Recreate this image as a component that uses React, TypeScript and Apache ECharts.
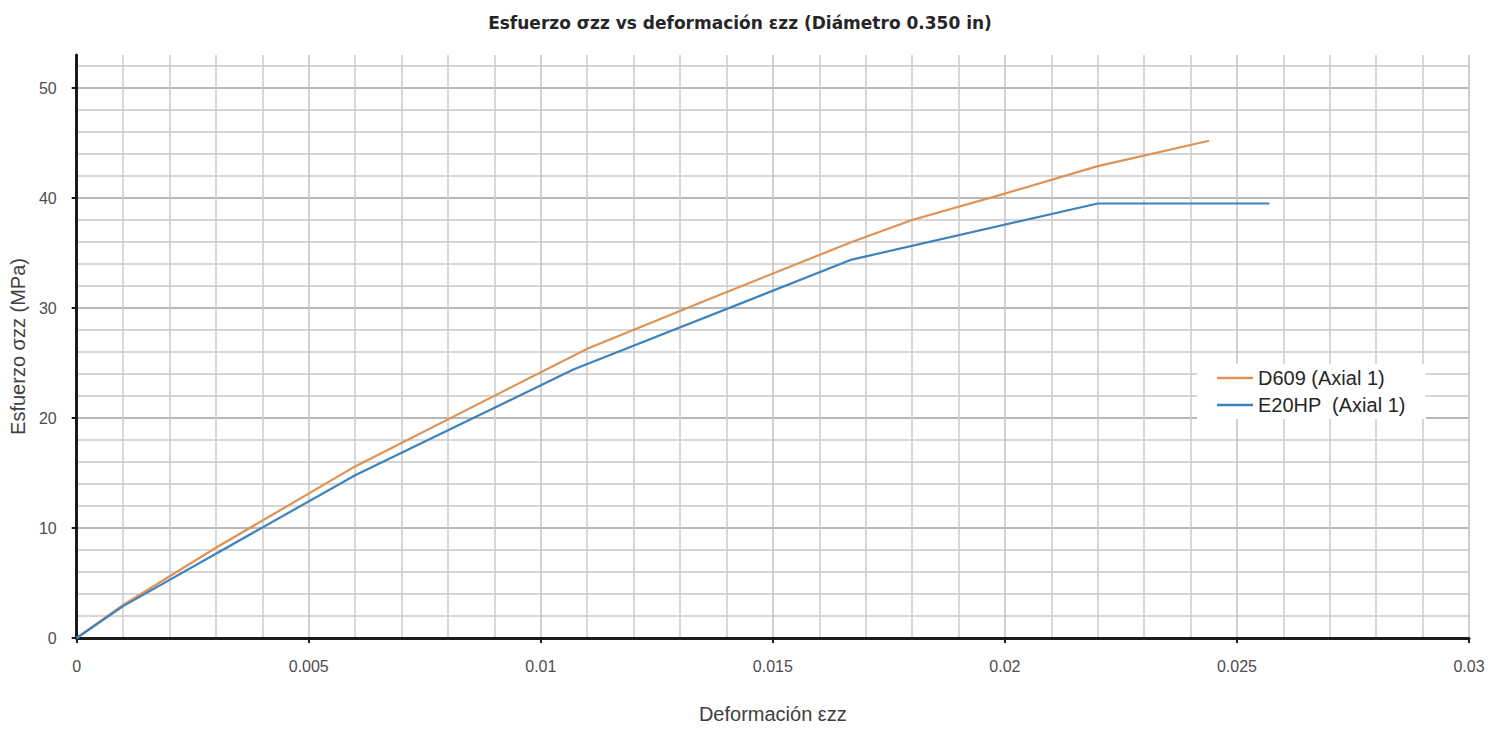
import React, { useEffect, useRef } from "react";
import * as echarts from "echarts";

const seriesNames = ["D609 (Axial 1)", "E20HP  (Axial 1)"];
const d609Strain = [0, 0.001, 0.003, 0.006, 0.011, 0.0135, 0.0167, 0.018, 0.02, 0.022, 0.0244];
const d609Stress = [0, 3.0, 8.2, 15.6, 26.3, 30.6, 36.0, 38.0, 40.4, 42.9, 45.2];
const e20Strain = [0, 0.001, 0.006, 0.0107, 0.0167, 0.022, 0.0257];
const e20Stress = [0, 2.9, 14.8, 24.4, 34.4, 39.5, 39.5];
const xTickLabels = [0, 0.005, 0.01, 0.015, 0.02, 0.025, 0.03];
const yTickLabels = [0, 10, 20, 30, 40, 50];

const FONT = "'Liberation Sans', Arial, sans-serif";
const orange = "#df9254";
const blue = "#3d83bd";

export default function App() {
  const ref = useRef<HTMLDivElement>(null);
  useEffect(() => {
    if (!ref.current) return;
    const chart = echarts.init(ref.current, null, { renderer: "svg" });
    const pairs = (xs: number[], ys: number[]) => xs.map((x, i) => [x, ys[i]]);
    chart.setOption({
      animation: false,
      backgroundColor: "#ffffff",
      textStyle: { fontFamily: FONT },
      title: {
        text: "Esfuerzo σzz vs deformación εzz (Diámetro 0.350 in)",
        left: 735,
        top: 9,
        textAlign: "center",
        textStyle: { fontFamily: "'DejaVu Sans', sans-serif", fontSize: 17, fontWeight: "bold", color: "#262626" },
      },
      legend: {
        orient: "vertical",
        left: 1197,
        top: 364,
        padding: [4, 20, 4, 20],
        backgroundColor: "#ffffff",
        icon: "rect",
        itemWidth: 36,
        itemHeight: 2.5,
        itemGap: 7,
        textStyle: { fontFamily: FONT, fontSize: 20, color: "#262626" },
        data: seriesNames,
      },
      grid: { left: 72, right: 36, top: 55, bottom: 85, containLabel: false },
      xAxis: {
        type: "value",
        min: 0,
        max: 0.03,
        interval: 0.005,
        name: "Deformación εzz",
        nameLocation: "middle",
        nameGap: 66,
        nameTextStyle: { fontFamily: FONT, fontSize: 20, color: "#404040" },
        axisLine: { show: true, onZero: false, lineStyle: { color: "#1a1a1a", width: 3 } },
        axisTick: { show: true, length: 5, customValues: xTickLabels, lineStyle: { color: "#1a1a1a", width: 2 } },
        axisLabel: {
          customValues: xTickLabels,
          margin: 20,
          fontFamily: FONT,
          fontSize: 16,
          color: "#4d4d4d",
          formatter: (v: number) => String(+v.toFixed(3)),
        },
        splitLine: { show: true, lineStyle: { color: "#c2c2c2", width: 1.5 } },
        minorTick: { show: false, splitNumber: 5 },
        minorSplitLine: { show: true, lineStyle: { color: "#cbcbcb", width: 1.5 } },
      },
      yAxis: {
        type: "value",
        min: 0,
        max: 53,
        interval: 10,
        name: "Esfuerzo σzz (MPa)",
        nameLocation: "middle",
        nameGap: 42,
        nameTextStyle: { fontFamily: FONT, fontSize: 20, color: "#404040" },
        axisLine: { show: true, lineStyle: { color: "#1a1a1a", width: 3 } },
        axisTick: { show: true, length: 5, customValues: yTickLabels, lineStyle: { color: "#1a1a1a", width: 2 } },
        axisLabel: {
          customValues: yTickLabels,
          margin: 20,
          fontFamily: FONT,
          fontSize: 16,
          color: "#4d4d4d",
        },
        splitLine: { show: true, lineStyle: { color: "#a0a0a0", width: 1.5 } },
        minorTick: { show: false, splitNumber: 5 },
        minorSplitLine: { show: true, lineStyle: { color: "#c8c8c8", width: 1.5 } },
      },
      series: [
        {
          name: seriesNames[0],
          type: "line",
          data: pairs(d609Strain, d609Stress),
          symbol: "none",
          smooth: false,
          lineStyle: { color: orange, width: 2.2 },
          itemStyle: { color: orange },
          z: 3,
        },
        {
          name: seriesNames[1],
          type: "line",
          data: pairs(e20Strain, e20Stress),
          symbol: "none",
          smooth: false,
          lineStyle: { color: blue, width: 2.2 },
          itemStyle: { color: blue },
          z: 4,
        },
      ],
    });
    return () => chart.dispose();
  }, []);
  return (
    <div
      ref={ref}
      style={{ position: "absolute", left: 0, top: 0, width: 1505, height: 729 }}
    />
  );
}
